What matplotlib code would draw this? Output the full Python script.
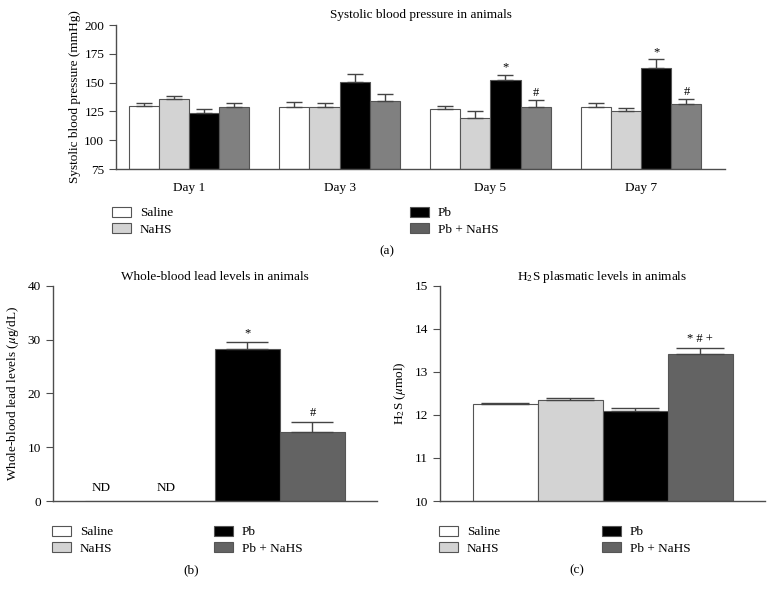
import numpy as np
import matplotlib
matplotlib.use("Agg")
import matplotlib.pyplot as plt
from matplotlib.patches import Patch

plt.rcParams['font.family'] = ['Liberation Serif', 'DejaVu Serif']
plt.rcParams['mathtext.fontset'] = 'stix'
plt.rcParams['font.size'] = 9.5

# ---- data ----
groups = ["Saline", "NaHS", "Pb", "Pb + NaHS"]
days = ["Day 1", "Day 3", "Day 5", "Day 7"]

# systolic blood pressure (mmHg), rows = group, cols = day
sbp_mean = np.array([
    [130, 129, 127, 129],
    [135.5, 129, 119, 125],
    [124, 150.8, 152.3, 162.7],
    [128.5, 133.7, 128.8, 131.4],
])
sbp_err = np.array([
    [2.6, 4.4, 3.0, 3.6],
    [2.9, 3.6, 6.0, 3.2],
    [3.1, 6.7, 4.6, 7.5],
    [4.1, 6.7, 5.8, 4.1],
])
sbp_marks = [["", "", "", ""], ["", "", "", ""], ["", "", "*", "*"], ["", "", "#", "#"]]

lead_mean = [0, 0, 28.2, 12.9]
lead_err = [0, 0, 1.3, 1.8]
lead_marks = ["", "", "*", "#"]
lead_nd = [True, True, False, False]

h2s_mean = [12.26, 12.34, 12.10, 13.41]
h2s_err = [0.02, 0.06, 0.07, 0.14]
h2s_marks = ["", "", "", "* # +"]

colors_a = ["white", "#d3d3d3", "black", "#808080"]
colors_bc = ["white", "#d3d3d3", "black", "#636363"]
edge = "#555555"
axis_col = "#4d4d4d"

fig = plt.figure(figsize=(7.73, 5.96), dpi=100)


def style_axis(ax):
    for s in ["top", "right"]:
        ax.spines[s].set_visible(False)
    for s in ["left", "bottom"]:
        ax.spines[s].set_color(axis_col)
        ax.spines[s].set_linewidth(1.0)
    ax.tick_params(axis="y", direction="out", length=5, color=axis_col, labelsize=9.5)


def add_legend(x_px, y_px, handles, labels):
    fig.legend(handles, labels, loc="upper left",
               bbox_to_anchor=(x_px / 773, 1 - y_px / 596),
               frameon=False, borderpad=0, borderaxespad=0,
               handlelength=1.45, handleheight=0.75, handletextpad=0.65,
               labelspacing=0.3, fontsize=9.5)


# ---- panel (a) ----
ax = fig.add_axes([116 / 773, 1 - 169 / 596, (725 - 116) / 773, (169 - 25) / 596])
x = np.arange(len(days))
w = 0.2
for i, g in enumerate(groups):
    xs = x + (i - 1.5) * w
    ax.bar(xs, sbp_mean[i] - 75, w, bottom=75, color=colors_a[i], edgecolor=edge, linewidth=0.8)
    ax.errorbar(xs, sbp_mean[i], yerr=[np.zeros(4), sbp_err[i]], fmt="none",
                ecolor="#444444", elinewidth=1.0, capsize=5.5, capthick=1.0)
    for j in range(len(days)):
        if sbp_marks[i][j]:
            ax.annotate(sbp_marks[i][j], (xs[j], sbp_mean[i][j] + sbp_err[i][j]),
                        xytext=(0, 1), textcoords="offset points",
                        ha="center", va="bottom", fontsize=9)
ax.set_xlim(-0.483, 3.556)
ax.set_ylim(75, 200)
ax.set_yticks(np.arange(75, 201, 25))
ax.set_xticks(x)
ax.set_xticklabels(days)
ax.tick_params(axis="x", length=0, pad=9, labelsize=9.5)
style_axis(ax)
ax.set_ylabel("Systolic blood pressure (mmHg)")
ax.yaxis.set_label_coords(-0.058, 0.5)
ax.set_title("Systolic blood pressure in animals", fontsize=9.5, pad=5)

ha = [Patch(facecolor=c, edgecolor=edge, linewidth=0.8) for c in ["white", "#d3d3d3", "black", "#606060"]]
add_legend(112, 207, ha[:2], groups[:2])
add_legend(410, 207, ha[2:], groups[2:])
fig.text(387 / 773, 1 - 251 / 596, "(a)", ha="center", va="center", fontsize=9.5)

hb = [Patch(facecolor=c, edgecolor=edge, linewidth=0.8) for c in colors_bc]

# ---- panel (b) ----
ax = fig.add_axes([52.7 / 773, 1 - 501 / 596, (376.7 - 52.7) / 773, (501 - 285.7) / 596])
xb = np.arange(4)
ax.bar(xb, lead_mean, 1.0, color=colors_bc, edgecolor=edge, linewidth=0.8)
for i in range(4):
    if lead_err[i] > 0:
        ax.errorbar(xb[i], lead_mean[i], yerr=[[0], [lead_err[i]]], fmt="none",
                    ecolor="#444444", elinewidth=1.0, capsize=15, capthick=1.0)
    if lead_marks[i]:
        ax.annotate(lead_marks[i], (xb[i], lead_mean[i] + lead_err[i]),
                    xytext=(0, 2), textcoords="offset points",
                    ha="center", va="bottom", fontsize=9)
    if lead_nd[i]:
        ax.text(xb[i] - 0.25, 2.5, "ND", ha="center", va="center", fontsize=9.5)
ax.set_xlim(-1.0, 3.99)
ax.set_ylim(0, 40)
ax.set_yticks(np.arange(0, 41, 10))
ax.set_xticks([])
style_axis(ax)
ax.set_ylabel(r"Whole-blood lead levels ($\mu$g/dL)")
ax.yaxis.set_label_coords(-0.098, 0.5)
ax.set_title("Whole-blood lead levels in animals", fontsize=9.5, pad=4)
add_legend(52, 526, hb[:2], groups[:2])
add_legend(214, 526, hb[2:], groups[2:])
fig.text(191 / 773, 1 - 570 / 596, "(b)", ha="center", va="center", fontsize=9.5)

# ---- panel (c) ----
ax = fig.add_axes([440 / 773, 1 - 501 / 596, (765 - 440) / 773, (501 - 285.7) / 596])
xc = np.arange(4)
ax.bar(xc, np.array(h2s_mean) - 10, 1.0, bottom=10, color=colors_bc, edgecolor=edge, linewidth=0.8)
ax.errorbar(xc, h2s_mean, yerr=[np.zeros(4), h2s_err], fmt="none",
            ecolor="#444444", elinewidth=1.0, capsize=17, capthick=1.0)
for i in range(4):
    if h2s_marks[i]:
        ax.annotate(h2s_marks[i], (xc[i], h2s_mean[i] + h2s_err[i]),
                    xytext=(0, 2), textcoords="offset points",
                    ha="center", va="bottom", fontsize=9)
ax.set_xlim(-1.0, 4.0)
ax.set_ylim(10, 15)
ax.set_yticks(np.arange(10, 16, 1))
ax.set_xticks([])
style_axis(ax)
ax.set_ylabel(r"H$_2$S ($\mu$mol)")
ax.yaxis.set_label_coords(-0.098, 0.5)
ax.set_title(r"H$_2$S plasmatic levels in animals", fontsize=9.5, pad=4)
add_legend(439, 526, hb[:2], groups[:2])
add_legend(602, 526, hb[2:], groups[2:])
fig.text(577 / 773, 1 - 570 / 596, "(c)", ha="center", va="center", fontsize=9.5)

fig.savefig("out.png", dpi=100)
